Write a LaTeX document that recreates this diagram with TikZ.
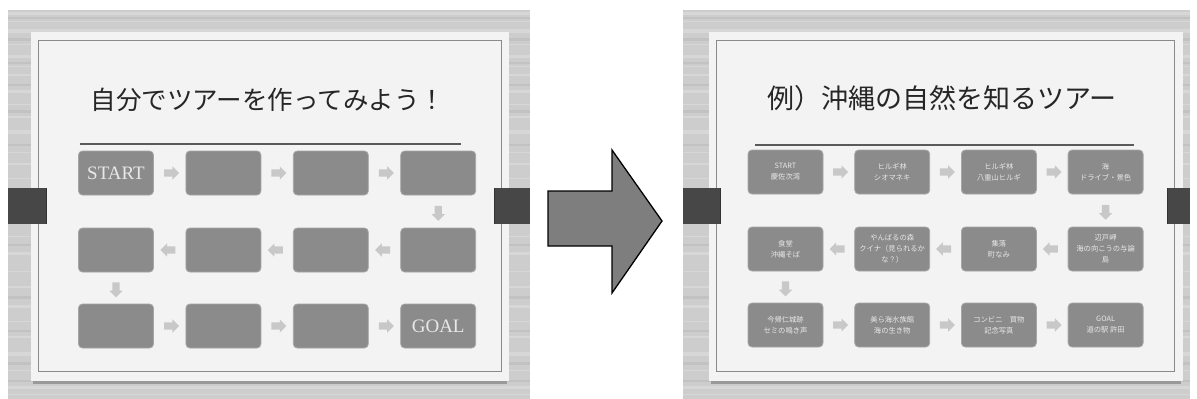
\documentclass[tikz,border=0pt]{standalone}
\usepackage{fontspec}
\setmainfont{Liberation Serif}
\newfontfamily\jp{Noto Sans CJK JP}
\usetikzlibrary{shapes.arrows,calc}
\definecolor{bggray}{HTML}{CDCDCD}
\definecolor{slidewhite}{HTML}{F3F3F3}
\definecolor{framegray}{HTML}{8A8A8A}
\definecolor{boxgray}{HTML}{8B8B8B}
\definecolor{boxedge}{HTML}{A6A6A6}
\definecolor{arrowgray}{HTML}{C8C8C8}
\definecolor{bargray}{HTML}{474747}
\definecolor{bigarrowgray}{HTML}{7E7E7E}
\definecolor{titlegray}{HTML}{262626}
\definecolor{boxtext}{HTML}{E8E8E8}
\definecolor{rulegray}{HTML}{5A5A5A}
\tikzset{
  tourbox/.style={draw=boxedge, line width=0.8pt, fill=boxgray, rounded corners=4pt,
    minimum width=75pt, minimum height=44pt, inner sep=1pt, align=center, text=boxtext},
  bigtext/.style={font=\fontsize{19}{19}\selectfont},
  smalltext/.style={font=\jp\fontsize{7.3}{11}\selectfont},
  flowright/.style={single arrow, fill=arrowgray, draw=none, minimum height=15pt,
    minimum width=13pt, single arrow head extend=3pt, inner sep=0pt, inner ysep=3.5pt},
  flowleft/.style={flowright, rotate=180},
  flowdown/.style={flowright, rotate=-90},
  titletext/.style={text=titlegray},
  streak/.style={white, opacity=0.22},
  darkstreak/.style={black, opacity=0.05},
}
\newcommand{\bgpanel}[2]{%
  \fill[bggray] (#1,10) rectangle (#2,399);
  \foreach \yy/\ww in {12/3, 21/1.2, 29/4, 44/1, 55/2.5, 66/1, 74/1.5, 90/3, 104/1, 116/1.5, 130/4, 152/1, 163/2, 178/1, 203/2.5, 236/1, 252/3, 271/1, 286/1.5, 305/2.5, 321/1, 336/2, 352/4, 370/1, 386/2.5, 394/1}{
    \fill[streak] (#1,\yy) rectangle (#2,\yy+\ww);
  }
  \foreach \yy/\ww in {17/2, 38/3, 62/2, 84/2, 110/3, 144/2, 196/3, 244/2, 296/3, 330/2, 362/3, 380/2}{
    \fill[darkstreak] (#1,\yy) rectangle (#2,\yy+\ww);
  }
}
\newcommand{\slidepanel}[4]{%
  \fill[black!40] (#1+2,#4-1) rectangle (#2-2,#4+3);
  \fill[black!20] (#1+4,#4+3) rectangle (#2-4,#4+5);
  \fill[slidewhite] (#1,#3) rectangle (#2,#4);
  \draw[framegray, line width=0.8pt] (#1+8,#3+8) rectangle (#2-8,#4-10);
}
\begin{document}
\begin{tikzpicture}[x=1pt,y=-1pt]
\useasboundingbox (0,0) rectangle (1197,399);
\fill[white] (0,0) rectangle (1197,399);

% ---------- left slide ----------
\bgpanel{8}{530}
\slidepanel{30.6}{509}{32}{381}
\fill[bargray] (8,188) rectangle (47,224);
\draw[black!80, line width=0.8pt] (46.5,188) -- (46.5,224);
\fill[bargray] (494,188) rectangle (530,224);
\draw[black!80, line width=0.8pt] (494.5,188) -- (494.5,224);

\node[titletext, font=\jp\fontsize{25.5}{26}\selectfont] (ltitle) at (268,100) {自分でツアーを作ってみよう！};
\coordinate (lrulea) at (79.6,144);
\coordinate (lruleb) at (461,144);
\draw[rulegray, line width=1.1pt] (lrulea) -- (lruleb);

\foreach \i/\x in {1/116, 2/223.4, 3/330.8, 4/438.2}{
  \foreach \r/\y in {1/173, 2/250, 3/326}{
    \ifnum\i\r=11\relax\else\ifnum\i\r=43\relax\else
      \node[tourbox] (l\r\i) at (\x,\y) {};
    \fi\fi
  }
}
\node[tourbox, bigtext] (l11) at (116,173) {START};
\node[tourbox, bigtext] (l34) at (438.2,326) {GOAL};

\node[flowright] (la1) at ($(l11.east)!0.5!(l12.west)$) {};
\node[flowright] (la2) at ($(l12.east)!0.5!(l13.west)$) {};
\node[flowright] (la3) at ($(l13.east)!0.5!(l14.west)$) {};
\node[flowdown]  (la4) at ($(l14.south)!0.5!(l24.north)$) {};
\node[flowleft]  (la5) at ($(l24.west)!0.5!(l23.east)$) {};
\node[flowleft]  (la6) at ($(l23.west)!0.5!(l22.east)$) {};
\node[flowleft]  (la7) at ($(l22.west)!0.5!(l21.east)$) {};
\node[flowdown]  (la8) at ($(l21.south)!0.5!(l31.north)$) {};
\node[flowright] (la9) at ($(l31.east)!0.5!(l32.west)$) {};
\node[flowright] (la10) at ($(l32.east)!0.5!(l33.west)$) {};
\node[flowright] (la11) at ($(l33.east)!0.5!(l34.west)$) {};

% ---------- big arrow ----------
\draw[fill=bigarrowgray, draw=black, line width=1.3pt, line join=miter]
  (548,191) -- (612,191) -- (612,150) -- (662,221) -- (612,293) -- (612,246) -- (548,246) -- cycle;

% ---------- right slide ----------
\bgpanel{683}{1190}
\slidepanel{708.5}{1182.6}{32}{381}
\fill[bargray] (683,188) rectangle (721,224);
\draw[black!80, line width=0.8pt] (720.5,188) -- (720.5,224);
\fill[bargray] (1167,188) rectangle (1190,224);
\draw[black!80, line width=0.8pt] (1167.5,188) -- (1167.5,224);

\node[titletext, font=\jp\fontsize{27}{28}\selectfont] (rtitle) at (942,98) {例）沖縄の自然を知るツアー};
\coordinate (rrulea) at (755,145);
\coordinate (rruleb) at (1134,145);
\draw[rulegray, line width=1.1pt] (rrulea) -- (rruleb);

\node[tourbox, smalltext] (r11) at (785.5,172) {START\\慶佐次湾};
\node[tourbox, smalltext] (r12) at (892.2,172) {ヒルギ林\\シオマネキ};
\node[tourbox, smalltext] (r13) at (998.9,172) {ヒルギ林\\八重山ヒルギ};
\node[tourbox, smalltext] (r14) at (1105.6,172) {海\\ドライブ・景色};
\node[tourbox, smalltext] (r24) at (1105.6,249) {辺戸岬\\海の向こうの与論\\島};
\node[tourbox, smalltext] (r23) at (998.9,249) {集落\\町なみ};
\node[tourbox, smalltext] (r22) at (892.2,249) {やんばるの森\\クイナ（見られるか\\な？）};
\node[tourbox, smalltext] (r21) at (785.5,249) {食堂\\沖縄そば};
\node[tourbox, smalltext] (r31) at (785.5,325) {今帰仁城跡\\セミの鳴き声};
\node[tourbox, smalltext] (r32) at (892.2,325) {美ら海水族館\\海の生き物};
\node[tourbox, smalltext] (r33) at (998.9,325) {コンビニ　買物\\記念写真};
\node[tourbox, smalltext] (r34) at (1105.6,325) {GOAL\\道の駅 許田};

\node[flowright] (ra1) at ($(r11.east)!0.5!(r12.west)$) {};
\node[flowright] (ra2) at ($(r12.east)!0.5!(r13.west)$) {};
\node[flowright] (ra3) at ($(r13.east)!0.5!(r14.west)$) {};
\node[flowdown]  (ra4) at ($(r14.south)!0.5!(r24.north)$) {};
\node[flowleft]  (ra5) at ($(r24.west)!0.5!(r23.east)$) {};
\node[flowleft]  (ra6) at ($(r23.west)!0.5!(r22.east)$) {};
\node[flowleft]  (ra7) at ($(r22.west)!0.5!(r21.east)$) {};
\node[flowdown]  (ra8) at ($(r21.south)!0.5!(r31.north)$) {};
\node[flowright] (ra9) at ($(r31.east)!0.5!(r32.west)$) {};
\node[flowright] (ra10) at ($(r32.east)!0.5!(r33.west)$) {};
\node[flowright] (ra11) at ($(r33.east)!0.5!(r34.west)$) {};
\end{tikzpicture}
\end{document}
